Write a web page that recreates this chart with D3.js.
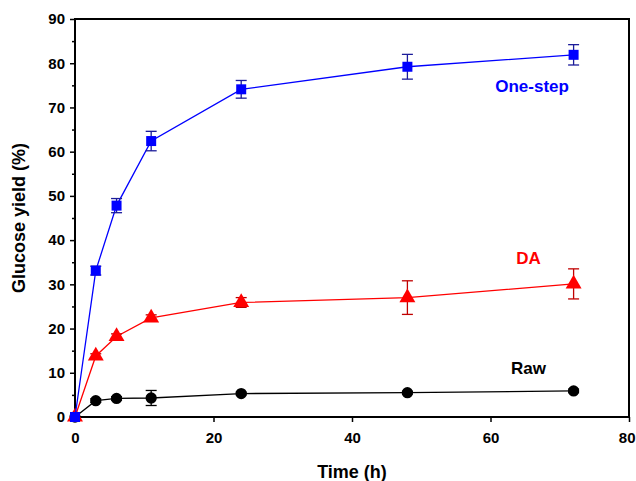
<!DOCTYPE html>
<html>
<meta charset="utf-8">
<style>
body { margin: 0; background: #fff; }
svg { font-family: "Liberation Sans", Arial, sans-serif; font-weight: bold; }
.axis path, .axis line { stroke: #000; }
.axis text { font-size: 15px; font-weight: bold; fill: #000; }
</style>
<body>
<script src="https://d3js.org/d3.v7.min.js"></script>
<script>

// sampling times (h)
var times = [0, 3, 6, 11, 24, 48, 72];

// glucose yield (%) and error bars
var oneStep    = [0, 33.1, 47.8, 62.4, 74.1, 79.2, 81.9];
var oneStepErr = [0, 1.0, 1.6, 2.2, 2.0, 2.8, 2.3];
var da         = [0, 13.8, 18.2, 22.4, 25.9, 27.0, 30.1];
var daErr      = [0, 0.5, 0.6, 0.7, 1.1, 3.8, 3.4];
var raw        = [0, 3.7, 4.2, 4.3, 5.3, 5.5, 5.9];
var rawErr     = [0, 0.4, 0.4, 1.7, 0.3, 0.3, 0.4];

var xTicks = [0, 20, 40, 60, 80];
var yTicks = [0, 10, 20, 30, 40, 50, 60, 70, 80, 90];
var yMinor = [5, 15, 25, 35, 45, 55, 65, 75, 85];

var margin = {top: 19, right: 7, bottom: 64, left: 75},
    width = 636 - margin.left - margin.right,
    height = 481 - margin.top - margin.bottom;

var x = d3.scaleLinear().domain([0, 80]).range([0, width]);
var y = d3.scaleLinear().domain([0, 90]).range([height, 0]);

var svg = d3.select("body").append("svg")
    .attr("width", 636)
    .attr("height", 481)
  .append("g")
    .attr("transform", "translate(" + margin.left + "," + margin.top + ")");

// minor y ticks
svg.append("g")
    .attr("class", "axis")
    .call(d3.axisLeft(y).tickValues(yMinor).tickSize(3).tickFormat(""))
    .call(function(g) { g.select(".domain").remove(); })
    .selectAll("line").attr("stroke-width", 1.5);

// y axis
svg.append("g")
    .attr("class", "axis")
    .call(d3.axisLeft(y).tickValues(yTicks).tickSize(5).tickPadding(5).tickSizeOuter(0))
    .call(function(g) {
      g.select(".domain").remove();
      g.selectAll("line").attr("stroke-width", 1.5);
    });

// x axis
svg.append("g")
    .attr("class", "axis")
    .attr("transform", "translate(0," + height + ")")
    .call(d3.axisBottom(x).tickValues(xTicks).tickSize(5).tickPadding(10).tickSizeOuter(0))
    .call(function(g) {
      g.select(".domain").remove();
      g.selectAll("line").attr("stroke-width", 1.5);
      // last label sits against the window edge
      g.selectAll("text").filter(function(d) { return d === 80; })
          .attr("text-anchor", "end").attr("dx", 6);
    });

// frame
svg.append("rect")
    .attr("x", 0).attr("y", 0)
    .attr("width", width).attr("height", height)
    .attr("fill", "none")
    .attr("stroke", "#000")
    .attr("stroke-width", 2);

var series = [
  {name: "Raw", vals: raw, err: rawErr, color: "#000000", errColor: "#000000", shape: d3.symbolCircle, size: 100},
  {name: "DA", vals: da, err: daErr, color: "#ff0000", errColor: "#c00000", shape: d3.symbolTriangle, size: 110},
  {name: "One-step", vals: oneStep, err: oneStepErr, color: "#0000ff", errColor: "#1c1c9a", shape: d3.symbolSquare, size: 100}
];

var line = d3.line()
    .x(function(d) { return x(d.t); })
    .y(function(d) { return y(d.v); });

series.forEach(function(s) {
  var pts = times.map(function(t, i) { return {t: t, v: s.vals[i], e: s.err[i]}; });

  svg.append("path")
      .datum(pts)
      .attr("fill", "none")
      .attr("stroke", s.color)
      .attr("stroke-width", 1.3)
      .attr("d", line);

  var eb = svg.append("g").selectAll("g")
      .data(pts.filter(function(d) { return d.e > 0; }))
      .enter().append("g")
      .attr("stroke", s.errColor)
      .attr("stroke-width", 1.3);
  eb.append("line")
      .attr("x1", function(d) { return x(d.t); })
      .attr("x2", function(d) { return x(d.t); })
      .attr("y1", function(d) { return y(d.v - d.e); })
      .attr("y2", function(d) { return y(d.v + d.e); });
  [-1, 1].forEach(function(sign) {
    eb.append("line")
        .attr("x1", function(d) { return x(d.t) - 5.5; })
        .attr("x2", function(d) { return x(d.t) + 5.5; })
        .attr("y1", function(d) { return y(d.v + sign * d.e); })
        .attr("y2", function(d) { return y(d.v + sign * d.e); });
  });

  svg.append("g").selectAll("path")
      .data(pts)
      .enter().append("path")
      .attr("transform", function(d) { return "translate(" + x(d.t) + "," + y(d.v) + ")"; })
      .attr("d", d3.symbol().type(s.shape).size(s.size))
      .attr("fill", s.color);
});

// series labels
var labels = [
  {text: "One-step", t: 66, v: 73.5, color: "#0000ff"},
  {text: "DA", t: 65.5, v: 34.6, color: "#ff0000"},
  {text: "Raw", t: 65.5, v: 9.7, color: "#000000"}
];
svg.selectAll(".lbl")
    .data(labels)
    .enter().append("text")
    .attr("x", function(d) { return x(d.t); })
    .attr("y", function(d) { return y(d.v); })
    .attr("text-anchor", "middle")
    .attr("font-size", 17)
    .attr("font-weight", "bold")
    .attr("fill", function(d) { return d.color; })
    .text(function(d) { return d.text; });

// axis titles
svg.append("text")
    .attr("x", width / 2)
    .attr("y", height + 61)
    .attr("text-anchor", "middle")
    .attr("font-size", 18)
    .attr("font-weight", "bold")
    .text("Time (h)");

svg.append("text")
    .attr("transform", "rotate(-90)")
    .attr("x", -height / 2)
    .attr("y", -50)
    .attr("text-anchor", "middle")
    .attr("font-size", 18)
    .attr("font-weight", "bold")
    .text("Glucose yield (%)");

</script>
</body>
</html>
